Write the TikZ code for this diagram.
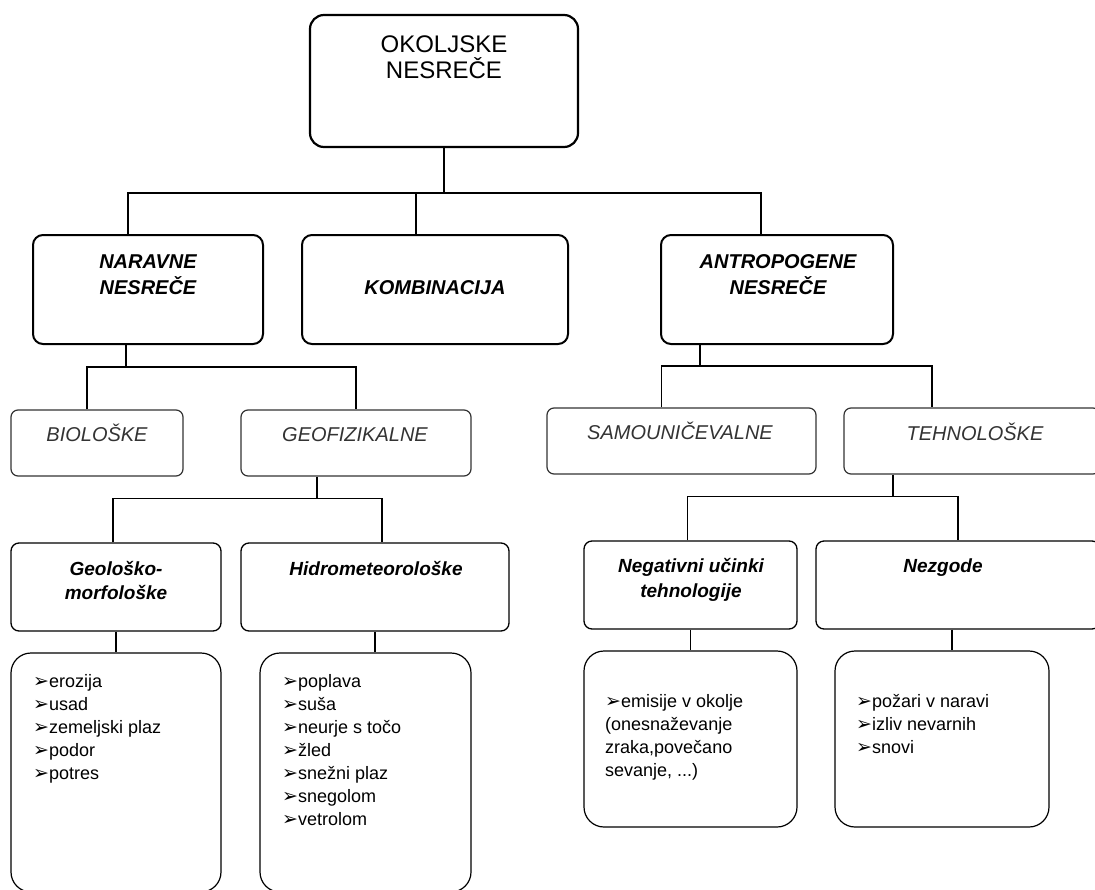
\documentclass[tikz,border=0pt]{standalone}
\usepackage{fontspec}
\setmainfont{Liberation Sans}
\newfontfamily\dejavu{DejaVu Sans}
\newcommand{\itemtip}{{\dejavu\fontsize{19}{19}\selectfont ➢}}
\begin{document}
\begin{tikzpicture}[x=1pt,y=-1pt,
		bigbox/.style = {draw,line width=2.2pt,rounded corners=14pt},
		midbox/.style = {draw,line width=2pt,rounded corners=10pt},
		subbox/.style = {draw,black!80,line width=1.2pt,rounded corners=7pt},
		catbox/.style = {draw,line width=1.3pt,rounded corners=8pt},
		listbox/.style = {draw,line width=1.2pt,rounded corners=20pt},
		conn/.style = {line width=2pt},
		thinconn/.style = {line width=1.2pt},
		headtxt/.style = {anchor=base,align=center,inner sep=0pt},
		listtxt/.style = {anchor=base west,align=left,inner sep=0pt,font=\fontsize{18}{23}\selectfont}]
	\useasboundingbox (0,0) rectangle (1095,889);
	\node[bigbox,minimum width=268pt,minimum height=132pt] (top) at (444,81) {};
	\node[headtxt,font=\fontsize{24}{26}\selectfont] (top-t) at (444,78) {OKOLJSKE\\NESREČE};
	\node[midbox,minimum width=230pt,minimum height=109pt] (nar) at (148,289.5) {};
	\node[midbox,minimum width=266pt,minimum height=109pt] (kom) at (435,289.5) {};
	\node[midbox,minimum width=232pt,minimum height=109pt] (ant) at (777,289.5) {};
	\node[headtxt,font=\fontsize{20}{26}\selectfont\bfseries\itshape] (nar-t) at (148,294) {NARAVNE\\NESREČE};
	\node[headtxt,font=\fontsize{20}{26}\selectfont\bfseries\itshape] (kom-t) at (435,294) {KOMBINACIJA};
	\node[headtxt,font=\fontsize{20}{26}\selectfont\bfseries\itshape] (ant-t) at (778,294) {ANTROPOGENE\\NESREČE};
	\node[subbox,minimum width=172pt,minimum height=66pt] (bio) at (97,443) {};
	\node[subbox,minimum width=230pt,minimum height=66pt] (geo) at (356,443) {};
	\node[subbox,minimum width=269pt,minimum height=66pt] (sam) at (681.5,441) {};
	\node[subbox,minimum width=256pt,minimum height=66pt] (teh) at (972,441) {};
	\node[headtxt,black!80,font=\fontsize{20}{24}\selectfont\itshape] (bio-t) at (97,441) {BIOLOŠKE};
	\node[headtxt,black!80,font=\fontsize{20}{24}\selectfont\itshape] (geo-t) at (355,441) {GEOFIZIKALNE};
	\node[headtxt,black!80,font=\fontsize{20}{24}\selectfont\itshape] (sam-t) at (680,439) {SAMOUNIČEVALNE};
	\node[headtxt,black!80,font=\fontsize{20}{24}\selectfont\itshape] (teh-t) at (975,440) {TEHNOLOŠKE};
	\node[catbox,minimum width=210pt,minimum height=88pt] (gm) at (116,587) {};
	\node[catbox,minimum width=268pt,minimum height=88pt] (hid) at (375,587) {};
	\node[catbox,minimum width=213pt,minimum height=88pt] (neg) at (690.5,585) {};
	\node[catbox,minimum width=284pt,minimum height=88pt] (nez) at (958,585) {};
	\node[headtxt,font=\fontsize{19}{24}\selectfont\bfseries\itshape] (gm-t) at (116,599) {Geološko-\\morfološke};
	\node[headtxt,font=\fontsize{19}{24}\selectfont\bfseries\itshape] (hid-t) at (376,575) {Hidrometeorološke};
	\node[headtxt,font=\fontsize{19}{25}\selectfont\bfseries\itshape] (neg-t) at (691,597) {Negativni učinki\\tehnologije};
	\node[headtxt,font=\fontsize{19}{25}\selectfont\bfseries\itshape] (nez-t) at (943,572) {Nezgode};
	\node[listbox,minimum width=210pt,minimum height=239pt] (l1) at (116,772.5) {};
	\node[listbox,minimum width=211pt,minimum height=239pt] (l2) at (365.5,772.5) {};
	\node[listbox,minimum width=213pt,minimum height=176pt] (l3) at (690.5,739) {};
	\node[listbox,minimum width=214pt,minimum height=176pt] (l4) at (942,739) {};
	\node[listtxt] (l1-t) at (33,779) {\itemtip erozija\\\itemtip usad\\\itemtip zemeljski plaz\\\itemtip podor\\\itemtip potres};
	\node[listtxt] (l2-t) at (282,825) {\itemtip poplava\\\itemtip suša\\\itemtip neurje s točo\\\itemtip žled\\\itemtip snežni plaz\\\itemtip snegolom\\\itemtip vetrolom};
	\node[listtxt] (l3-t) at (605,776) {\itemtip emisije v okolje\\(onesnaževanje\\zraka,povečano\\sevanje, ...)};
	\node[listtxt] (l4-t) at (856,753) {\itemtip požari v naravi\\\itemtip izliv nevarnih\\\itemtip snovi};
	\draw[conn] (top.south) -- ++(0,45) coordinate (bar1);
	\draw[conn] ([xshift=-20pt]nar.north) |- (bar1) -| ([xshift=-16pt]ant.north);
	\draw[conn] ([xshift=-19pt]kom.north) -- ([xshift=-19pt]kom.north |- bar1);
	\draw[thinconn] ([xshift=-22pt]nar.south) -- ++(0,22) coordinate (bar2);
	\draw[thinconn] ([xshift=-10pt]bio.north) |- (bar2) -| (geo.north);
	\draw[thinconn] ([xshift=-77pt]ant.south) -- ++(0,21) coordinate (bar3);
	\draw[thinconn] ([xshift=-20pt]sam.north) |- (bar3) -| ([xshift=-40pt]teh.north);
	\draw[thinconn] ([xshift=-39pt]geo.south) -- ++(0,22) coordinate (bar4);
	\draw[thinconn] ([xshift=-3pt]gm.north) |- (bar4) -| ([xshift=7pt]hid.north);
	\draw[thinconn] ([xshift=-79pt]teh.south) -- ++(0,22) coordinate (bar5);
	\draw[thinconn] ([xshift=-3pt]neg.north) |- (bar5) -| (nez.north);
	\draw[thinconn] (gm.south) -- (gm.south |- l1.north);
	\draw[thinconn] (hid.south) -- (hid.south |- l2.north);
	\draw[thinconn] (neg.south) -- (neg.south |- l3.north);
	\draw[thinconn] ([xshift=-6pt]nez.south) coordinate (nez-c) -- (nez-c |- l4.north);
\end{tikzpicture}
\end{document}
